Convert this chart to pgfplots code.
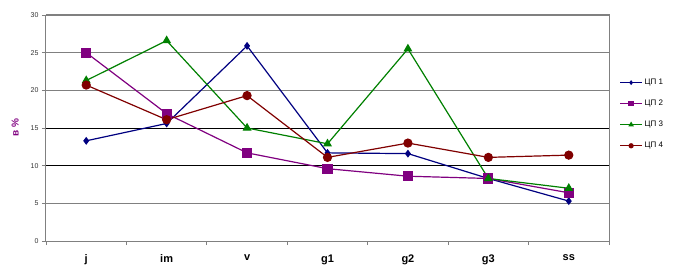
\documentclass[border=0pt]{standalone}
\usepackage{fontspec}
\setmainfont{Liberation Sans}
\usepackage{pgfplots}
\pgfplotsset{compat=1.18}
\definecolor{c1}{RGB}{0,0,128}
\definecolor{c2}{RGB}{128,0,128}
\definecolor{c3}{RGB}{0,128,0}
\definecolor{c4}{RGB}{128,0,0}
\definecolor{gr}{RGB}{128,128,128}
\begin{document}
\begin{tikzpicture}[x=1pt,y=1pt]
\path[use as bounding box] (-46,-32) rectangle (628,241);
\begin{axis}[
  at={(0,0)}, anchor=south west,
  scale only axis, width=563pt, height=226pt,
  xmin=-0.5, xmax=6.5, ymin=0, ymax=30,
  xtick={0,...,6}, xticklabels={j,im,v,g1,g2,g3,ss},
  xtick style={draw=none},
  extra x ticks={-0.5,0.5,1.5,2.5,3.5,4.5,5.5,6.5},
  extra x tick labels={},
  extra x tick style={xtick style={gr, thick, draw=gr}, major tick length=4pt},
  xticklabel style={font=\bfseries\fontsize{11}{12}\selectfont, yshift=-6pt},
  ytick={0,5,...,30},
  extra y ticks={10,15},
  extra y tick labels={},
  extra y tick style={grid style={black, line width=0.8pt}},
  ymajorgrids,
  grid style={gr, line width=0.8pt},
  ytick style={gr, thick},
  tick align=outside, major tick length=4pt,
  yticklabel style={font=\fontsize{7}{8}\selectfont, text=black!80},
  /pgf/number format/assume math mode=true,
  axis line style={gr, line width=1pt},
  axis x line*=bottom, axis y line*=left,
  ylabel={\textcolor{c2}{\bfseries в \%}},
  ylabel style={font=\fontsize{10}{11}\selectfont, yshift=-3pt},
  clip=false,
  legend style={draw=none, fill=none, at={(1.013,0.735)}, anchor=north west,
    font=\fontsize{8}{9}\selectfont, row sep=10pt,
    /tikz/every even column/.append style={column sep=1pt}},
  legend cell align=left,
  legend image code/.code={
    \draw[#1, mark=none] (0pt,0pt) -- (22pt,0pt);
    \path[#1, mark options={scale=0.5}] plot coordinates {(11pt,0pt)};
  },
]
\draw[gr, line width=1pt] (rel axis cs:0,1) -- (rel axis cs:1,1) -- (rel axis cs:1,0);
\addplot[c1, line width=1.2pt, mark=diamond*, mark size=3pt, mark options={fill=c1}]
  coordinates {(0,13.3) (1,15.6) (2,25.9) (3,11.7) (4,11.6) (5,8.3) (6,5.3)};
\addlegendentry{ЦП 1}
\addplot[c2, line width=1.2pt, mark=square*, mark size=4.5pt, mark options={fill=c2}]
  coordinates {(0,25.0) (1,16.9) (2,11.7) (3,9.6) (4,8.6) (5,8.3) (6,6.4)};
\addlegendentry{ЦП 2}
\addplot[c3, line width=1.2pt, mark=triangle*, mark size=4pt, mark options={fill=c3}]
  coordinates {(0,21.3) (1,26.6) (2,15.0) (3,12.9) (4,25.5) (5,8.3) (6,7.0)};
\addlegendentry{ЦП 3}
\addplot[c4, line width=1.2pt, mark=*, mark size=4pt, mark options={fill=c4}]
  coordinates {(0,20.7) (1,16.1) (2,19.3) (3,11.1) (4,13.0) (5,11.1) (6,11.4)};
\addlegendentry{ЦП 4}
\end{axis}
\end{tikzpicture}
\end{document}
